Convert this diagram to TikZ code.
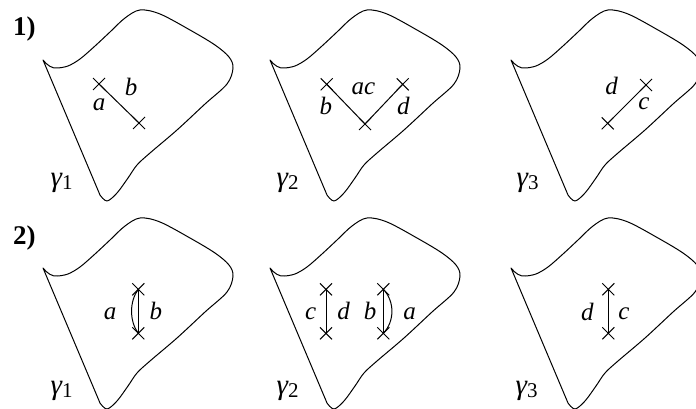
\documentclass[tikz,border=0pt]{standalone}
\usepackage{fontspec}
\setmainfont{Liberation Serif}
\usetikzlibrary{shapes.misc}
\tikzset{
  outline/.style={line width=1pt, line join=round},
  xmark/.style={cross out, draw, minimum size=11pt, inner sep=0pt, line width=1pt},
  conn/.style={line width=1pt},
  lbl/.style={font=\fontsize{25}{28}\selectfont\itshape, inner sep=0pt, anchor=base},
  glbl/.style={font=\fontsize{29}{32}\selectfont, inner sep=0pt, anchor=base west},
  num/.style={font=\fontsize{27}{30}\selectfont\bfseries, inner sep=0pt, anchor=base west}
}
\newcommand\myblob[2]{%
  \draw[outline, shift={(#1,#2)}] plot[smooth, tension=0.55] coordinates {
    (58,68) (68,66) (80,59) (95,46) (110,32) (125,18) (140,10) (160,14)
    (190,30) (215,45) (229,57) (233,68) (227,84) (205,104) (177,130)
    (150,153) (137,165) (128,178) (117,193) (107,201) (100,195)}
    -- (43,60) .. controls (47,65) and (52,69) .. (58,68);}
\newcommand\gam[1]{{\itshape γ}\raisebox{-3pt}{\fontsize{21}{21}\selectfont #1}}
\begin{document}
\begin{tikzpicture}[x=1pt, y=-1pt]
\useasboundingbox (0,0) rectangle (696,409);
\begin{scope}
\clip (0,0) rectangle (696,409);
\myblob{0}{0}
\myblob{227}{0}
\myblob{468}{0}
\myblob{0}{208}
\myblob{227}{208}
\myblob{468}{208}
\end{scope}

% labels
\node[num] (n1) at (13,36) {1)};
\node[num] (n2) at (13,244.5) {2)};
\node[glbl] (g11) at (50.5,186) {\gam{1}};
\node[glbl] (g12) at (276.5,186) {\gam{2}};
\node[glbl] (g13) at (516.5,186) {\gam{3}};
\node[glbl] (g21) at (50.5,394) {\gam{1}};
\node[glbl] (g22) at (276.5,394) {\gam{2}};
\node[glbl] (g23) at (515.5,394) {\gam{3}};

% row 1, panel 1
\node[xmark] (p1a) at (99,84) {};
\node[xmark] (p1b) at (139,123) {};
\draw[conn] (p1a.center) -- (p1b.center);
\node[lbl] (l1a) at (99,110.7) {a};
\node[lbl] (l1b) at (131,95.7) {b};

% row 1, panel 2
\node[xmark] (p2a) at (326.7,84.3) {};
\node[xmark] (p2b) at (365,124) {};
\node[xmark] (p2c) at (402.7,84.3) {};
\draw[conn] (p2a.center) -- (p2b.center) -- (p2c.center);
\node[lbl] (l2b) at (325.8,115) {b};
\node[lbl] (l2ac) at (363.3,95) {ac};
\node[lbl] (l2d) at (403.3,115) {d};

% row 1, panel 3
\node[xmark] (p3a) at (646,85) {};
\node[xmark] (p3b) at (607.7,123.3) {};
\draw[conn] (p3a.center) -- (p3b.center);
\node[lbl] (l3d) at (611.7,95) {d};
\node[lbl] (l3c) at (644,110) {c};

% row 2, panel 1
\node[xmark] (q1a) at (138.3,289.3) {};
\node[xmark] (q1b) at (138.3,333.3) {};
\draw[conn] (q1a.center) -- (q1b.center);
\draw[conn] (q1a.center) .. controls +(-9,12) and +(-9,-12) .. (q1b.center);
\node[lbl] (m1a) at (110,319.3) {a};
\node[lbl] (m1b) at (155.8,319.3) {b};

% row 2, panel 2
\node[xmark] (q2a) at (326,289.3) {};
\node[xmark] (q2b) at (326,333.3) {};
\draw[conn] (q2a.center) -- (q2b.center);
\node[xmark] (q2c) at (383.3,289.3) {};
\node[xmark] (q2d) at (383.3,333.3) {};
\draw[conn] (q2c.center) -- (q2d.center);
\draw[conn] (q2c.center) .. controls +(11.5,12) and +(11.5,-12) .. (q2d.center);
\node[lbl] (m2c) at (310.7,319.3) {c};
\node[lbl] (m2d) at (343.7,319.3) {d};
\node[lbl] (m2b) at (370,319.3) {b};
\node[lbl] (m2a) at (409.7,319.3) {a};

% row 2, panel 3
\node[xmark] (q3a) at (608.3,289.3) {};
\node[xmark] (q3b) at (608.3,333.3) {};
\draw[conn] (q3a.center) -- (q3b.center);
\node[lbl] (m3d) at (587.3,320) {d};
\node[lbl] (m3c) at (624,319.3) {c};
\end{tikzpicture}
\end{document}
